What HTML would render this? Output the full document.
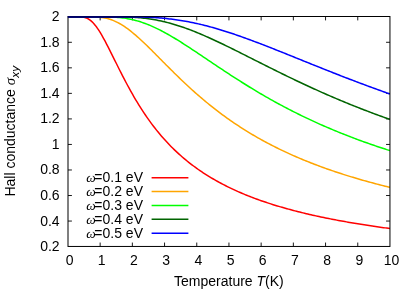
<!DOCTYPE html>
<html><head><meta charset="utf-8">
<style>
html,body{margin:0;padding:0;background:#fff;}
svg{display:block;}
text{font-family:"Liberation Sans",sans-serif;font-size:14px;fill:#000;}
.sym{font-family:"Liberation Serif",serif;font-style:italic;}
.it{font-style:italic;}
</style></head><body>
<div style="will-change:transform;width:415px;height:291px"><svg width="415" height="291" viewBox="0 0 415 291">
<defs><linearGradient id="g" gradientUnits="userSpaceOnUse" x1="68" y1="0" x2="175" y2="0"><stop offset="0" stop-color="#00006e" stop-opacity="0.9"/><stop offset="0.45" stop-color="#00006e" stop-opacity="0.9"/><stop offset="1" stop-color="#00006e" stop-opacity="0"/></linearGradient><clipPath id="c"><rect x="68.00" y="16.50" width="321.95" height="230.95"/></clipPath></defs>
<rect x="0" y="0" width="415" height="291" fill="#fff"/>
<g stroke="#000" stroke-width="0.9" fill="none">
<line x1="100.15" y1="246.45" x2="100.15" y2="242.55"/>
<line x1="100.15" y1="16.50" x2="100.15" y2="20.40"/>
<line x1="132.35" y1="246.45" x2="132.35" y2="242.55"/>
<line x1="132.35" y1="16.50" x2="132.35" y2="20.40"/>
<line x1="164.55" y1="246.45" x2="164.55" y2="242.55"/>
<line x1="164.55" y1="16.50" x2="164.55" y2="20.40"/>
<line x1="196.75" y1="246.45" x2="196.75" y2="242.55"/>
<line x1="196.75" y1="16.50" x2="196.75" y2="20.40"/>
<line x1="228.95" y1="246.45" x2="228.95" y2="242.55"/>
<line x1="228.95" y1="16.50" x2="228.95" y2="20.40"/>
<line x1="261.15" y1="246.45" x2="261.15" y2="242.55"/>
<line x1="261.15" y1="16.50" x2="261.15" y2="20.40"/>
<line x1="293.35" y1="246.45" x2="293.35" y2="242.55"/>
<line x1="293.35" y1="16.50" x2="293.35" y2="20.40"/>
<line x1="325.55" y1="246.45" x2="325.55" y2="242.55"/>
<line x1="325.55" y1="16.50" x2="325.55" y2="20.40"/>
<line x1="357.75" y1="246.45" x2="357.75" y2="242.55"/>
<line x1="357.75" y1="16.50" x2="357.75" y2="20.40"/>
<line x1="68.00" y1="221.06" x2="71.90" y2="221.06"/>
<line x1="389.95" y1="221.06" x2="386.05" y2="221.06"/>
<line x1="68.00" y1="195.52" x2="71.90" y2="195.52"/>
<line x1="389.95" y1="195.52" x2="386.05" y2="195.52"/>
<line x1="68.00" y1="169.98" x2="71.90" y2="169.98"/>
<line x1="389.95" y1="169.98" x2="386.05" y2="169.98"/>
<line x1="68.00" y1="144.44" x2="71.90" y2="144.44"/>
<line x1="389.95" y1="144.44" x2="386.05" y2="144.44"/>
<line x1="68.00" y1="118.91" x2="71.90" y2="118.91"/>
<line x1="389.95" y1="118.91" x2="386.05" y2="118.91"/>
<line x1="68.00" y1="93.37" x2="71.90" y2="93.37"/>
<line x1="389.95" y1="93.37" x2="386.05" y2="93.37"/>
<line x1="68.00" y1="67.83" x2="71.90" y2="67.83"/>
<line x1="389.95" y1="67.83" x2="386.05" y2="67.83"/>
<line x1="68.00" y1="42.29" x2="71.90" y2="42.29"/>
<line x1="389.95" y1="42.29" x2="386.05" y2="42.29"/>
</g>
<g clip-path="url(#c)">
<polyline points="67.95,16.75 69.56,16.75 71.17,16.75 72.78,16.75 74.39,16.75 76.00,16.75 77.61,16.76 79.22,16.78 80.83,16.84 82.44,16.99 84.05,17.26 85.66,17.71 87.27,18.37 88.88,19.27 90.49,20.42 92.10,21.83 93.71,23.50 95.32,25.42 96.93,27.57 98.54,29.92 100.15,32.47 101.76,35.17 103.37,38.01 104.98,40.97 106.59,44.03 108.20,47.15 109.81,50.33 111.42,53.55 113.03,56.80 114.64,60.05 116.25,63.29 117.86,66.53 119.47,69.74 121.08,72.93 122.69,76.08 124.30,79.19 125.91,82.25 127.52,85.26 129.13,88.23 130.74,91.14 132.35,93.99 133.96,96.79 135.57,99.54 137.18,102.22 138.79,104.85 140.40,107.42 142.01,109.93 143.62,112.38 145.23,114.79 146.84,117.13 148.45,119.42 150.06,121.66 151.67,123.84 153.28,125.98 154.89,128.06 156.50,130.10 158.11,132.09 159.72,134.03 161.33,135.92 162.94,137.78 164.55,139.59 166.16,141.35 167.77,143.08 169.38,144.77 170.99,146.42 172.60,148.03 174.21,149.60 175.82,151.14 177.43,152.65 179.04,154.12 180.65,155.56 182.26,156.97 183.87,158.34 185.48,159.69 187.09,161.01 188.70,162.30 190.31,163.56 191.92,164.80 193.53,166.01 195.14,167.20 196.75,168.36 198.36,169.50 199.97,170.61 201.58,171.70 203.19,172.77 204.80,173.82 206.41,174.85 208.02,175.86 209.63,176.85 211.24,177.82 212.85,178.77 214.46,179.70 216.07,180.62 217.68,181.52 219.29,182.40 220.90,183.27 222.51,184.12 224.12,184.95 225.73,185.77 227.34,186.58 228.95,187.37 230.56,188.14 232.17,188.91 233.78,189.66 235.39,190.40 237.00,191.12 238.61,191.83 240.22,192.53 241.83,193.22 243.44,193.90 245.05,194.57 246.66,195.22 248.27,195.87 249.88,196.50 251.49,197.13 253.10,197.74 254.71,198.35 256.32,198.94 257.93,199.53 259.54,200.10 261.15,200.67 262.76,201.23 264.37,201.78 265.98,202.33 267.59,202.86 269.20,203.39 270.81,203.91 272.42,204.42 274.03,204.92 275.64,205.42 277.25,205.91 278.86,206.39 280.47,206.87 282.08,207.34 283.69,207.80 285.30,208.26 286.91,208.71 288.52,209.15 290.13,209.59 291.74,210.02 293.35,210.45 294.96,210.87 296.57,211.28 298.18,211.69 299.79,212.10 301.40,212.50 303.01,212.89 304.62,213.28 306.23,213.66 307.84,214.04 309.45,214.41 311.06,214.78 312.67,215.15 314.28,215.51 315.89,215.86 317.50,216.21 319.11,216.56 320.72,216.90 322.33,217.24 323.94,217.58 325.55,217.91 327.16,218.24 328.77,218.56 330.38,218.88 331.99,219.19 333.60,219.50 335.21,219.81 336.82,220.12 338.43,220.42 340.04,220.72 341.65,221.01 343.26,221.30 344.87,221.59 346.48,221.87 348.09,222.15 349.70,222.43 351.31,222.71 352.92,222.98 354.53,223.25 356.14,223.52 357.75,223.78 359.36,224.04 360.97,224.30 362.58,224.55 364.19,224.81 365.80,225.06 367.41,225.30 369.02,225.55 370.63,225.79 372.24,226.03 373.85,226.27 375.46,226.50 377.07,226.74 378.68,226.97 380.29,227.19 381.90,227.42 383.51,227.64 385.12,227.87 386.73,228.08 388.34,228.30 389.95,228.52" fill="none" stroke="#ff0000" stroke-width="1.50" stroke-linejoin="round"/>
<polyline points="67.95,16.75 69.56,16.75 71.17,16.75 72.78,16.75 74.39,16.75 76.00,16.75 77.61,16.75 79.22,16.75 80.83,16.75 82.44,16.75 84.05,16.75 85.66,16.75 87.27,16.76 88.88,16.76 90.49,16.78 92.10,16.80 93.71,16.84 95.32,16.90 96.93,16.99 98.54,17.11 100.15,17.26 101.76,17.46 103.37,17.71 104.98,18.01 106.59,18.37 108.20,18.79 109.81,19.27 111.42,19.81 113.03,20.42 114.64,21.09 116.25,21.83 117.86,22.64 119.47,23.50 121.08,24.43 122.69,25.42 124.30,26.47 125.91,27.57 127.52,28.72 129.13,29.92 130.74,31.17 132.35,32.47 133.96,33.80 135.57,35.17 137.18,36.58 138.79,38.01 140.40,39.48 142.01,40.97 143.62,42.49 145.23,44.03 146.84,45.58 148.45,47.15 150.06,48.74 151.67,50.33 153.28,51.94 154.89,53.55 156.50,55.17 158.11,56.80 159.72,58.42 161.33,60.05 162.94,61.67 164.55,63.29 166.16,64.91 167.77,66.53 169.38,68.14 170.99,69.74 172.60,71.34 174.21,72.93 175.82,74.51 177.43,76.08 179.04,77.64 180.65,79.19 182.26,80.72 183.87,82.25 185.48,83.76 187.09,85.26 188.70,86.75 190.31,88.23 191.92,89.69 193.53,91.14 195.14,92.57 196.75,93.99 198.36,95.40 199.97,96.79 201.58,98.17 203.19,99.54 204.80,100.88 206.41,102.22 208.02,103.54 209.63,104.85 211.24,106.14 212.85,107.42 214.46,108.68 216.07,109.93 217.68,111.16 219.29,112.38 220.90,113.59 222.51,114.79 224.12,115.96 225.73,117.13 227.34,118.28 228.95,119.42 230.56,120.55 232.17,121.66 233.78,122.76 235.39,123.84 237.00,124.92 238.61,125.98 240.22,127.03 241.83,128.06 243.44,129.09 245.05,130.10 246.66,131.10 248.27,132.09 249.88,133.06 251.49,134.03 253.10,134.98 254.71,135.92 256.32,136.86 257.93,137.78 259.54,138.69 261.15,139.59 262.76,140.48 264.37,141.35 265.98,142.22 267.59,143.08 269.20,143.93 270.81,144.77 272.42,145.60 274.03,146.42 275.64,147.23 277.25,148.03 278.86,148.82 280.47,149.60 282.08,150.38 283.69,151.14 285.30,151.90 286.91,152.65 288.52,153.39 290.13,154.12 291.74,154.84 293.35,155.56 294.96,156.27 296.57,156.97 298.18,157.66 299.79,158.34 301.40,159.02 303.01,159.69 304.62,160.35 306.23,161.01 307.84,161.66 309.45,162.30 311.06,162.94 312.67,163.56 314.28,164.18 315.89,164.80 317.50,165.41 319.11,166.01 320.72,166.61 322.33,167.20 323.94,167.78 325.55,168.36 327.16,168.93 328.77,169.50 330.38,170.06 331.99,170.61 333.60,171.16 335.21,171.70 336.82,172.24 338.43,172.77 340.04,173.30 341.65,173.82 343.26,174.34 344.87,174.85 346.48,175.36 348.09,175.86 349.70,176.36 351.31,176.85 352.92,177.33 354.53,177.82 356.14,178.30 357.75,178.77 359.36,179.24 360.97,179.70 362.58,180.16 364.19,180.62 365.80,181.07 367.41,181.52 369.02,181.96 370.63,182.40 372.24,182.83 373.85,183.27 375.46,183.69 377.07,184.12 378.68,184.54 380.29,184.95 381.90,185.36 383.51,185.77 385.12,186.17 386.73,186.58 388.34,186.97 389.95,187.37" fill="none" stroke="#ffa500" stroke-width="1.50" stroke-linejoin="round"/>
<polyline points="67.95,16.75 69.56,16.75 71.17,16.75 72.78,16.75 74.39,16.75 76.00,16.75 77.61,16.75 79.22,16.75 80.83,16.75 82.44,16.75 84.05,16.75 85.66,16.75 87.27,16.75 88.88,16.75 90.49,16.75 92.10,16.75 93.71,16.75 95.32,16.75 96.93,16.76 98.54,16.76 100.15,16.77 101.76,16.78 103.37,16.79 104.98,16.81 106.59,16.84 108.20,16.88 109.81,16.93 111.42,16.99 113.03,17.06 114.64,17.16 116.25,17.26 117.86,17.39 119.47,17.54 121.08,17.71 122.69,17.91 124.30,18.13 125.91,18.37 127.52,18.64 129.13,18.94 130.74,19.27 132.35,19.62 133.96,20.01 135.57,20.42 137.18,20.86 138.79,21.33 140.40,21.83 142.01,22.36 143.62,22.92 145.23,23.50 146.84,24.12 148.45,24.76 150.06,25.42 151.67,26.11 153.28,26.83 154.89,27.57 156.50,28.33 158.11,29.12 159.72,29.92 161.33,30.75 162.94,31.60 164.55,32.47 166.16,33.35 167.77,34.25 169.38,35.17 170.99,36.10 172.60,37.05 174.21,38.01 175.82,38.99 177.43,39.98 179.04,40.97 180.65,41.98 182.26,43.00 183.87,44.03 185.48,45.06 187.09,46.10 188.70,47.15 190.31,48.21 191.92,49.27 193.53,50.33 195.14,51.40 196.75,52.48 198.36,53.55 199.97,54.63 201.58,55.71 203.19,56.80 204.80,57.88 206.41,58.96 208.02,60.05 209.63,61.13 211.24,62.21 212.85,63.29 214.46,64.37 216.07,65.45 217.68,66.53 219.29,67.60 220.90,68.67 222.51,69.74 224.12,70.81 225.73,71.87 227.34,72.93 228.95,73.98 230.56,75.03 232.17,76.08 233.78,77.12 235.39,78.15 237.00,79.19 238.61,80.21 240.22,81.23 241.83,82.25 243.44,83.26 245.05,84.26 246.66,85.26 248.27,86.26 249.88,87.25 251.49,88.23 253.10,89.20 254.71,90.17 256.32,91.14 257.93,92.10 259.54,93.05 261.15,93.99 262.76,94.93 264.37,95.87 265.98,96.79 267.59,97.71 269.20,98.63 270.81,99.54 272.42,100.44 274.03,101.33 275.64,102.22 277.25,103.10 278.86,103.98 280.47,104.85 282.08,105.71 283.69,106.57 285.30,107.42 286.91,108.26 288.52,109.10 290.13,109.93 291.74,110.75 293.35,111.57 294.96,112.38 296.57,113.19 298.18,113.99 299.79,114.79 301.40,115.57 303.01,116.35 304.62,117.13 306.23,117.90 307.84,118.66 309.45,119.42 311.06,120.17 312.67,120.92 314.28,121.66 315.89,122.39 317.50,123.12 319.11,123.84 320.72,124.56 322.33,125.27 323.94,125.98 325.55,126.68 327.16,127.37 328.77,128.06 330.38,128.75 331.99,129.43 333.60,130.10 335.21,130.77 336.82,131.43 338.43,132.09 340.04,132.74 341.65,133.39 343.26,134.03 344.87,134.67 346.48,135.30 348.09,135.92 349.70,136.55 351.31,137.16 352.92,137.78 354.53,138.39 356.14,138.99 357.75,139.59 359.36,140.18 360.97,140.77 362.58,141.35 364.19,141.93 365.80,142.51 367.41,143.08 369.02,143.65 370.63,144.21 372.24,144.77 373.85,145.32 375.46,145.87 377.07,146.42 378.68,146.96 380.29,147.49 381.90,148.03 383.51,148.56 385.12,149.08 386.73,149.60 388.34,150.12 389.95,150.63" fill="none" stroke="#00ff00" stroke-width="1.50" stroke-linejoin="round"/>
<polyline points="67.95,16.75 69.56,16.75 71.17,16.75 72.78,16.75 74.39,16.75 76.00,16.75 77.61,16.75 79.22,16.75 80.83,16.75 82.44,16.75 84.05,16.75 85.66,16.75 87.27,16.75 88.88,16.75 90.49,16.75 92.10,16.75 93.71,16.75 95.32,16.75 96.93,16.75 98.54,16.75 100.15,16.75 101.76,16.75 103.37,16.75 104.98,16.75 106.59,16.76 108.20,16.76 109.81,16.76 111.42,16.77 113.03,16.78 114.64,16.79 116.25,16.80 117.86,16.82 119.47,16.84 121.08,16.87 122.69,16.90 124.30,16.94 125.91,16.99 127.52,17.04 129.13,17.11 130.74,17.18 132.35,17.26 133.96,17.36 135.57,17.46 137.18,17.58 138.79,17.71 140.40,17.86 142.01,18.01 143.62,18.18 145.23,18.37 146.84,18.57 148.45,18.79 150.06,19.02 151.67,19.27 153.28,19.53 154.89,19.81 156.50,20.11 158.11,20.42 159.72,20.75 161.33,21.09 162.94,21.46 164.55,21.83 166.16,22.23 167.77,22.64 169.38,23.06 170.99,23.50 172.60,23.96 174.21,24.43 175.82,24.92 177.43,25.42 179.04,25.94 180.65,26.47 182.26,27.01 183.87,27.57 185.48,28.14 187.09,28.72 188.70,29.32 190.31,29.92 191.92,30.54 193.53,31.17 195.14,31.81 196.75,32.47 198.36,33.13 199.97,33.80 201.58,34.48 203.19,35.17 204.80,35.87 206.41,36.58 208.02,37.29 209.63,38.01 211.24,38.74 212.85,39.48 214.46,40.22 216.07,40.97 217.68,41.73 219.29,42.49 220.90,43.26 222.51,44.03 224.12,44.80 225.73,45.58 227.34,46.37 228.95,47.15 230.56,47.94 232.17,48.74 233.78,49.54 235.39,50.33 237.00,51.14 238.61,51.94 240.22,52.75 241.83,53.55 243.44,54.36 245.05,55.17 246.66,55.98 248.27,56.80 249.88,57.61 251.49,58.42 253.10,59.23 254.71,60.05 256.32,60.86 257.93,61.67 259.54,62.48 261.15,63.29 262.76,64.10 264.37,64.91 265.98,65.72 267.59,66.53 269.20,67.33 270.81,68.14 272.42,68.94 274.03,69.74 275.64,70.54 277.25,71.34 278.86,72.13 280.47,72.93 282.08,73.72 283.69,74.51 285.30,75.29 286.91,76.08 288.52,76.86 290.13,77.64 291.74,78.41 293.35,79.19 294.96,79.96 296.57,80.72 298.18,81.49 299.79,82.25 301.40,83.01 303.01,83.76 304.62,84.52 306.23,85.26 307.84,86.01 309.45,86.75 311.06,87.49 312.67,88.23 314.28,88.96 315.89,89.69 317.50,90.42 319.11,91.14 320.72,91.86 322.33,92.57 323.94,93.29 325.55,93.99 327.16,94.70 328.77,95.40 330.38,96.10 331.99,96.79 333.60,97.48 335.21,98.17 336.82,98.86 338.43,99.54 340.04,100.21 341.65,100.88 343.26,101.55 344.87,102.22 346.48,102.88 348.09,103.54 349.70,104.20 351.31,104.85 352.92,105.49 354.53,106.14 356.14,106.78 357.75,107.42 359.36,108.05 360.97,108.68 362.58,109.31 364.19,109.93 365.80,110.55 367.41,111.16 369.02,111.78 370.63,112.38 372.24,112.99 373.85,113.59 375.46,114.19 377.07,114.79 378.68,115.38 380.29,115.96 381.90,116.55 383.51,117.13 385.12,117.71 386.73,118.28 388.34,118.85 389.95,119.42" fill="none" stroke="#006400" stroke-width="1.50" stroke-linejoin="round"/>
<polyline points="67.95,16.75 69.56,16.75 71.17,16.75 72.78,16.75 74.39,16.75 76.00,16.75 77.61,16.75 79.22,16.75 80.83,16.75 82.44,16.75 84.05,16.75 85.66,16.75 87.27,16.75 88.88,16.75 90.49,16.75 92.10,16.75 93.71,16.75 95.32,16.75 96.93,16.75 98.54,16.75 100.15,16.75 101.76,16.75 103.37,16.75 104.98,16.75 106.59,16.75 108.20,16.75 109.81,16.75 111.42,16.75 113.03,16.75 114.64,16.75 116.25,16.76 117.86,16.76 119.47,16.76 121.08,16.76 122.69,16.77 124.30,16.78 125.91,16.79 127.52,16.80 129.13,16.81 130.74,16.82 132.35,16.84 133.96,16.86 135.57,16.89 137.18,16.92 138.79,16.95 140.40,16.99 142.01,17.03 143.62,17.08 145.23,17.14 146.84,17.20 148.45,17.26 150.06,17.34 151.67,17.42 153.28,17.51 154.89,17.61 156.50,17.71 158.11,17.83 159.72,17.95 161.33,18.08 162.94,18.22 164.55,18.37 166.16,18.53 167.77,18.70 169.38,18.88 170.99,19.07 172.60,19.27 174.21,19.48 175.82,19.70 177.43,19.93 179.04,20.17 180.65,20.42 182.26,20.68 183.87,20.95 185.48,21.24 187.09,21.53 188.70,21.83 190.31,22.15 191.92,22.47 193.53,22.81 195.14,23.15 196.75,23.50 198.36,23.87 199.97,24.24 201.58,24.63 203.19,25.02 204.80,25.42 206.41,25.83 208.02,26.25 209.63,26.68 211.24,27.12 212.85,27.57 214.46,28.02 216.07,28.49 217.68,28.96 219.29,29.44 220.90,29.92 222.51,30.42 224.12,30.92 225.73,31.43 227.34,31.94 228.95,32.47 230.56,32.99 232.17,33.53 233.78,34.07 235.39,34.62 237.00,35.17 238.61,35.73 240.22,36.29 241.83,36.86 243.44,37.44 245.05,38.01 246.66,38.60 248.27,39.19 249.88,39.78 251.49,40.37 253.10,40.97 254.71,41.58 256.32,42.19 257.93,42.80 259.54,43.41 261.15,44.03 262.76,44.65 264.37,45.27 265.98,45.90 267.59,46.52 269.20,47.15 270.81,47.79 272.42,48.42 274.03,49.06 275.64,49.70 277.25,50.33 278.86,50.98 280.47,51.62 282.08,52.26 283.69,52.91 285.30,53.55 286.91,54.20 288.52,54.85 290.13,55.50 291.74,56.15 293.35,56.80 294.96,57.44 296.57,58.09 298.18,58.75 299.79,59.40 301.40,60.05 303.01,60.70 304.62,61.35 306.23,62.00 307.84,62.64 309.45,63.29 311.06,63.94 312.67,64.59 314.28,65.24 315.89,65.88 317.50,66.53 319.11,67.17 320.72,67.82 322.33,68.46 323.94,69.10 325.55,69.74 327.16,70.38 328.77,71.02 330.38,71.66 331.99,72.29 333.60,72.93 335.21,73.56 336.82,74.19 338.43,74.82 340.04,75.45 341.65,76.08 343.26,76.70 344.87,77.33 346.48,77.95 348.09,78.57 349.70,79.19 351.31,79.80 352.92,80.42 354.53,81.03 356.14,81.64 357.75,82.25 359.36,82.86 360.97,83.46 362.58,84.06 364.19,84.67 365.80,85.26 367.41,85.86 369.02,86.46 370.63,87.05 372.24,87.64 373.85,88.23 375.46,88.81 377.07,89.40 378.68,89.98 380.29,90.56 381.90,91.14 383.51,91.71 385.12,92.29 386.73,92.86 388.34,93.43 389.95,93.99" fill="none" stroke="#0000ff" stroke-width="1.50" stroke-linejoin="round"/>
</g>
<rect x="68.00" y="16.50" width="321.95" height="229.95" fill="none" stroke="#000" stroke-width="1"/>
<line x1="67.8" y1="17" x2="175" y2="17" stroke="url(#g)" stroke-width="2"/>
<text x="69.55" y="265.1" text-anchor="middle">0</text>
<text x="101.75" y="265.1" text-anchor="middle">1</text>
<text x="133.95" y="265.1" text-anchor="middle">2</text>
<text x="166.15" y="265.1" text-anchor="middle">3</text>
<text x="198.35" y="265.1" text-anchor="middle">4</text>
<text x="230.55" y="265.1" text-anchor="middle">5</text>
<text x="262.75" y="265.1" text-anchor="middle">6</text>
<text x="294.95" y="265.1" text-anchor="middle">7</text>
<text x="327.15" y="265.1" text-anchor="middle">8</text>
<text x="359.35" y="265.1" text-anchor="middle">9</text>
<text x="391.55" y="265.1" text-anchor="middle">10</text>
<text x="59.6" y="251.10" text-anchor="end">0.2</text>
<text x="59.6" y="225.56" text-anchor="end">0.4</text>
<text x="59.6" y="200.02" text-anchor="end">0.6</text>
<text x="59.6" y="174.48" text-anchor="end">0.8</text>
<text x="59.6" y="148.94" text-anchor="end">1</text>
<text x="59.6" y="123.41" text-anchor="end">1.2</text>
<text x="59.6" y="97.87" text-anchor="end">1.4</text>
<text x="59.6" y="72.33" text-anchor="end">1.6</text>
<text x="59.6" y="46.79" text-anchor="end">1.8</text>
<text x="59.6" y="21.25" text-anchor="end">2</text>
<text x="143" y="182.10" text-anchor="end"><tspan class="sym" font-size="13.4px">ω</tspan><tspan dx="-1.3">=0.1 eV</tspan></text>
<line x1="151.6" y1="177.70" x2="188.4" y2="177.70" stroke="#ff0000" stroke-width="1.50"/>
<text x="143" y="196.00" text-anchor="end"><tspan class="sym" font-size="13.4px">ω</tspan><tspan dx="-1.3">=0.2 eV</tspan></text>
<line x1="151.6" y1="191.60" x2="188.4" y2="191.60" stroke="#ffa500" stroke-width="1.50"/>
<text x="143" y="209.90" text-anchor="end"><tspan class="sym" font-size="13.4px">ω</tspan><tspan dx="-1.3">=0.3 eV</tspan></text>
<line x1="151.6" y1="205.50" x2="188.4" y2="205.50" stroke="#00ff00" stroke-width="1.50"/>
<text x="143" y="223.70" text-anchor="end"><tspan class="sym" font-size="13.4px">ω</tspan><tspan dx="-1.3">=0.4 eV</tspan></text>
<line x1="151.6" y1="219.30" x2="188.4" y2="219.30" stroke="#006400" stroke-width="1.50"/>
<text x="143" y="237.60" text-anchor="end"><tspan class="sym" font-size="13.4px">ω</tspan><tspan dx="-1.3">=0.5 eV</tspan></text>
<line x1="151.6" y1="233.20" x2="188.4" y2="233.20" stroke="#0000ff" stroke-width="1.50"/>
<text x="228.9" y="286" text-anchor="middle">Temperature <tspan class="it">T</tspan>(K)</text>
<text transform="translate(15.2,131.2) rotate(-90)" text-anchor="middle">Hall conductance <tspan class="sym" font-size="14.8px">σ</tspan><tspan class="it" font-size="11.8px" dy="4.2" dx="0.3">xy</tspan></text>
</svg></div>
</body></html>
